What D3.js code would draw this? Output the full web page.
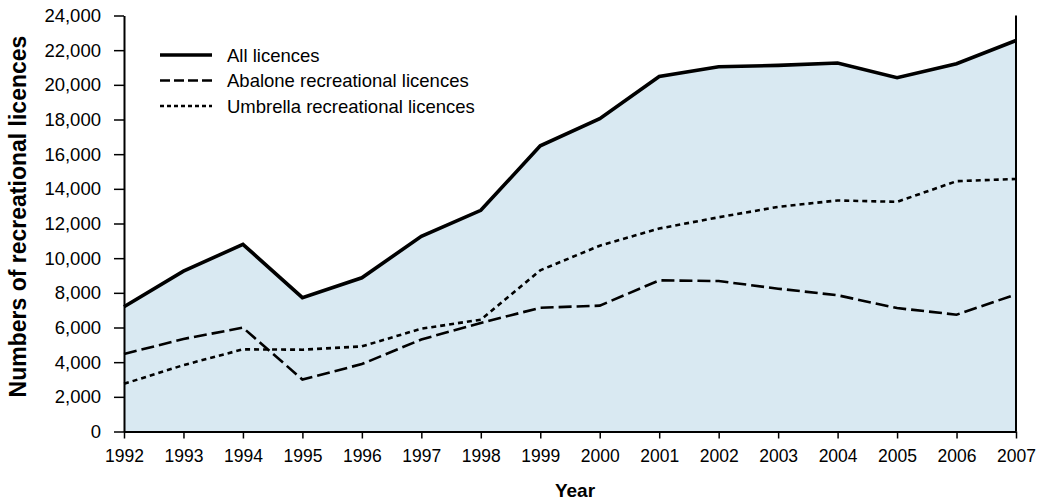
<!DOCTYPE html>
<html><head><meta charset="utf-8">
<script src="https://cdn.jsdelivr.net/npm/d3@7"></script>
<style>body{margin:0;background:#fff}svg{display:block}text{font-family:"Liberation Sans",Arial,sans-serif}</style>
</head><body>
<svg id="c" width="1040" height="503"></svg>
<script>
const years = [1992,1993,1994,1995,1996,1997,1998,1999,2000,2001,2002,2003,2004,2005,2006,2007];
const allLicences = [7200,9250,10800,7720,8870,11260,12760,16480,18050,20480,21040,21120,21260,20410,21220,22560];
const abalone = [4470,5340,5990,3000,3890,5310,6260,7140,7260,8720,8680,8240,7860,7120,6740,7910];
const umbrella = [2750,3830,4740,4720,4910,5930,6450,9300,10720,11710,12360,12960,13330,13250,14440,14570];
const yTicks = [0,2000,4000,6000,8000,10000,12000,14000,16000,18000,20000,22000,24000];
const legendLabels = ["All licences","Abalone recreational licences","Umbrella recreational licences"];

const svg = d3.select("#c");
const x0 = 124, x1 = 1016, yTop = 15.5, yBot = 431.5;
const x = d3.scaleLinear().domain([1992,2007]).range([x0,x1]);
const y = d3.scaleLinear().domain([0,24000]).range([yBot,yTop]);

const fmt = d3.format(",");
const idx = d3.range(years.length);

svg.append("path").datum(idx)
  .attr("fill","#d9e9f2")
  .attr("d", d3.area().x(i=>x(years[i])).y0(y(0)).y1(i=>y(allLicences[i])));

const line = vals => d3.line().x(i=>x(years[i])).y(i=>y(vals[i]))(idx);

const styles = [
  {vals: allLicences, w: 3.6, dash: null},
  {vals: abalone, w: 2.6, dash: "13,5"},
  {vals: umbrella, w: 2.6, dash: "5,4"}
];
styles.forEach(s=>{
  svg.append("path").attr("d", line(s.vals)).attr("fill","none")
    .attr("stroke","#000").attr("stroke-width", s.w)
    .attr("stroke-dasharray", s.dash).attr("stroke-linejoin","miter");
});

// right frame
svg.append("line").attr("x1",x1).attr("x2",x1).attr("y1",yTop).attr("y2",yBot)
  .attr("stroke","#000").attr("stroke-width",2);

const yAxis = svg.append("g").attr("transform",`translate(${x0},0)`)
  .call(d3.axisLeft(y).tickValues(yTicks).tickFormat(fmt).tickSize(10).tickPadding(13).tickSizeOuter(0));
const xAxis = svg.append("g").attr("transform",`translate(0,${yBot})`)
  .call(d3.axisBottom(x).tickValues(years).tickFormat(d3.format("d")).tickSize(7).tickPadding(11).tickSizeOuter(0));
[yAxis,xAxis].forEach(a=>{
  a.select(".domain").attr("stroke","#000").attr("stroke-width",2);
  a.selectAll(".tick line").attr("stroke","#000").attr("stroke-width",1.5);
  a.selectAll("text").attr("fill","#000")
    .style("font-family","'Liberation Sans',Arial,sans-serif");
});
yAxis.selectAll("text").style("font-size","18.5px");
xAxis.selectAll("text").style("font-size","17.5px");

svg.append("text").attr("transform","translate(26,216.5) rotate(-90)")
  .attr("text-anchor","middle").style("font-size","23px").attr("font-weight","bold")
  .text("Numbers of recreational licences");
svg.append("text").attr("x",575).attr("y",497)
  .attr("text-anchor","middle").style("font-size","19px").attr("font-weight","bold")
  .text("Year");

const lg = svg.append("g");
legendLabels.forEach((lab,i)=>{
  const yy = 55 + i*25.5;
  lg.append("line").attr("x1",160).attr("x2",212).attr("y1",yy).attr("y2",yy)
    .attr("stroke","#000").attr("stroke-width", styles[i].w)
    .attr("stroke-dasharray", i===0?null:(i===1?"10,4":"4,3"));
  lg.append("text").attr("x",227).attr("y",yy+6.5).style("font-size","18.5px").text(lab);
});
</script>
</body></html>
